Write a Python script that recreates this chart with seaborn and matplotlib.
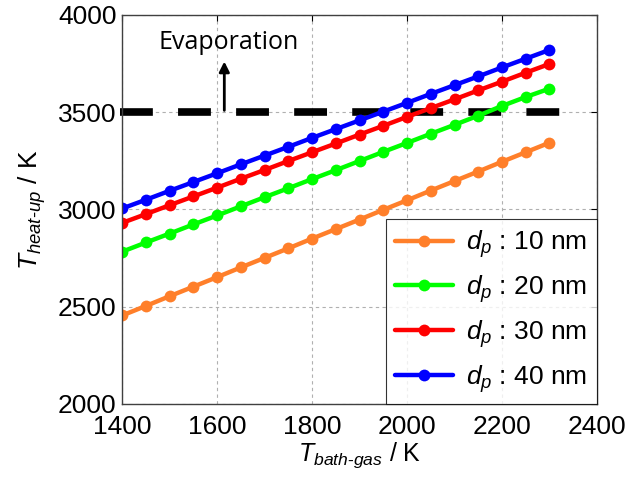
import matplotlib
matplotlib.use('Agg')
import matplotlib.pyplot as plt
import seaborn as sns
import pandas as pd

# bath gas temperature (K)
t_bath = [1400, 1450, 1500, 1550, 1600, 1650, 1700, 1750, 1800, 1850,
          1900, 1950, 2000, 2050, 2100, 2150, 2200, 2250, 2300]

# heat-up temperature (K) for each particle diameter
t_10nm = [2455, 2504, 2554, 2603, 2652, 2702, 2751, 2800, 2850, 2899,
          2948, 2998, 3047, 3097, 3146, 3195, 3245, 3294, 3343]
t_20nm = [2783, 2830, 2876, 2923, 2969, 3016, 3063, 3109, 3156, 3202,
          3249, 3296, 3342, 3389, 3435, 3482, 3532, 3578, 3621]
t_30nm = [2931, 2976, 3022, 3067, 3112, 3158, 3203, 3249, 3294, 3339,
          3385, 3430, 3476, 3521, 3566, 3612, 3657, 3703, 3748]
t_40nm = [3005, 3050, 3096, 3141, 3186, 3232, 3277, 3322, 3368, 3413,
          3458, 3503, 3548, 3594, 3639, 3684, 3730, 3775, 3820]

labels = ['$d_p$ : 10 nm', '$d_p$ : 20 nm', '$d_p$ : 30 nm', '$d_p$ : 40 nm']
colors = ['#FF7F2A', '#00FF00', '#FF0000', '#0000FF']

evap_temp = 3500

rows = []
for lab, vals in zip(labels, [t_10nm, t_20nm, t_30nm, t_40nm]):
    for x, y in zip(t_bath, vals):
        rows.append({'T_bath': x, 'T_heat': y, 'size': lab})
df = pd.DataFrame(rows)

sns.set_style('white')
plt.rcParams['font.family'] = ['Liberation Sans', 'DejaVu Sans']
plt.rcParams['mathtext.fontset'] = 'custom'
plt.rcParams['mathtext.rm'] = 'Liberation Sans'
plt.rcParams['mathtext.it'] = 'Liberation Sans:italic'
plt.rcParams['text.color'] = 'black'
plt.rcParams['axes.labelcolor'] = 'black'
plt.rcParams['xtick.color'] = 'black'
plt.rcParams['ytick.color'] = 'black'

fig = plt.figure(figsize=(6.27, 4.82), dpi=100)
ax = fig.add_axes([0.195, 0.162, 0.757, 0.807])

ax.grid(True, linestyle=(0, (3, 3)), color='#b0b0b0', linewidth=0.8)
ax.set_axisbelow(True)

sns.lineplot(data=df, x='T_bath', y='T_heat', hue='size', palette=colors,
             marker='o', markersize=8.5, markeredgewidth=0, linewidth=3.2,
             ax=ax, legend=True)

# evaporation threshold
ax.plot([1395, 2350], [evap_temp, evap_temp], color='black', linewidth=5.5,
        dashes=(4.3, 3.3), solid_capstyle='butt', dash_capstyle='butt',
        clip_on=False, zorder=1)
ax.annotate('', xy=(1615, 3775), xytext=(1615, 3495),
            arrowprops=dict(arrowstyle='-|>,head_width=0.3,head_length=0.6',
                            color='black', lw=2))
ax.text(1625, 3860, 'Evaporation', ha='center', va='center', fontsize=18,
        family=['Open Sans', 'DejaVu Sans'])

ax.set_xlim(1400, 2400)
ax.set_ylim(2000, 4000)
ax.set_xticks([1400, 1600, 1800, 2000, 2200, 2400])
ax.set_yticks([2000, 2500, 3000, 3500, 4000])
ax.tick_params(direction='in', top=True, right=True, labelsize=19,
               length=4, width=0.8, colors='black')
ax.tick_params(axis='x', pad=8)
ax.tick_params(axis='y', pad=4)
for sp in ax.spines.values():
    sp.set_color('#404040')
    sp.set_linewidth(1)

ax.set_xlabel('$T_{bath\\text{-}gas}$ / K', fontsize=18, labelpad=1)
ax.set_ylabel('$T_{heat\\text{-}up}$ / K', fontsize=19, labelpad=7)

leg = ax.legend(loc='lower right', fontsize=19, frameon=True, fancybox=False,
                edgecolor='black', handlelength=2.2, handletextpad=0.5,
                borderaxespad=0.0, labelspacing=0.5, borderpad=0.35)
leg.get_frame().set_linewidth(0.8)
for h in leg.legend_handles:
    h.set_linewidth(3.2)
    h.set_markersize(8.5)

fig.savefig('out.png', dpi=100)
plt.close()
